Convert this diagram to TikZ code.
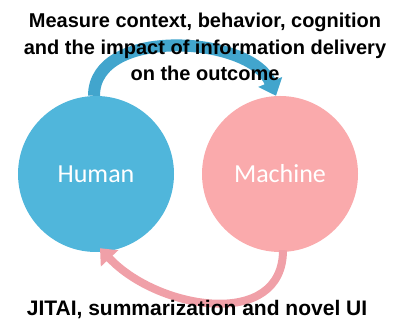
\documentclass[tikz,border=0pt]{standalone}
\usepackage{fontspec}
\setmainfont{Liberation Sans}
\newfontfamily\carlito{Carlito}
\usepackage{tikz}
\usetikzlibrary{arrows.meta}

\definecolor{humanblue}{RGB}{80,182,219}
\definecolor{arrowblue}{RGB}{66,165,205}
\definecolor{machinepink}{RGB}{250,170,172}
\definecolor{arrowpink}{RGB}{240,160,168}

\begin{document}
\begin{tikzpicture}[x=1pt, y=1pt,
    agent/.style={circle, minimum size=156pt, inner sep=0pt, text=white,
        font=\carlito\fontsize{26}{30}\selectfont},
    caption/.style={font=\bfseries\fontsize{20}{26.5}\selectfont, align=center}]
    \useasboundingbox (0,0) rectangle (401,320);

    \node[agent, fill=humanblue] (human) at (96,146) {Human};
    \node[agent, fill=machinepink] (machine) at (280,146) {Machine};

    \draw[arrowblue, line width=12pt, -{Triangle[width=25pt, length=15pt]}]
        ([xshift=-2pt]human.north) .. controls +(0,70) and +(-25,60) .. ([xshift=-4pt]machine.north);  % Human a Machine
    \draw[arrowpink, line width=8pt, -{Triangle[width=23pt, length=14pt]}]
        ([xshift=3pt, yshift=2pt]machine.south) .. controls +(0,-80) and +(58,-62) .. ([xshift=4pt, yshift=4pt]human.south);

    \node[caption] (measure) at (205,273) {Measure context, behavior, cognition\\and the impact of information delivery\\on the outcome};
    \node[caption, font=\bfseries\fontsize{21}{26}\selectfont] (jitai) at (197,10) {JITAI, summarization and novel UI};
\end{tikzpicture}
\end{document}
